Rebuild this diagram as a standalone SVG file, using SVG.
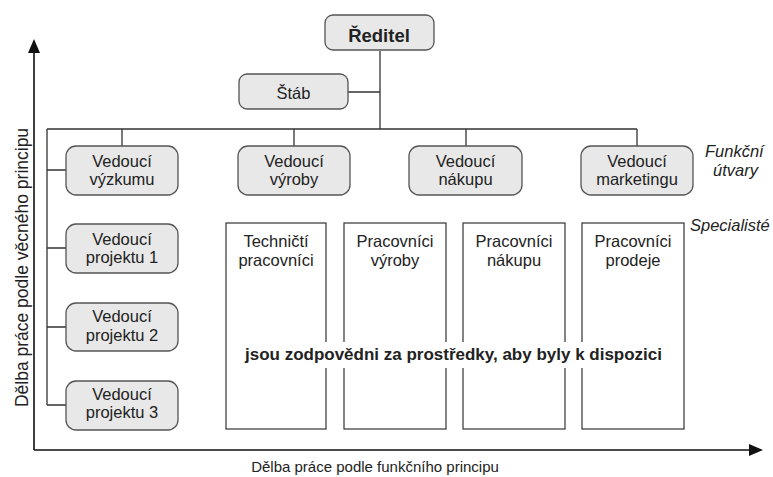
<svg xmlns="http://www.w3.org/2000/svg" width="773" height="477" viewBox="0 0 773 477">
<style>
text{font-family:"Liberation Sans",Arial,sans-serif;fill:#222;text-anchor:middle}
.nb{fill:#e8e8e8;stroke:#555;stroke-width:1.3}
.sp{fill:none;stroke:#333;stroke-width:1.2}
.t{font-size:16.5px}
.it{font-size:16.5px;font-style:italic;text-anchor:start}
.ln{fill:none;stroke:#333;stroke-width:1.3}
.ax{fill:none;stroke:#111;stroke-width:1.6}
</style>
<rect width="773" height="477" fill="#fff"/>
<g id="connectors">
<path class="ln" d="M380 51V129M348 92H380M47 129H637M122 129V146M294 129V146M466 129V146M637 129V146M47 129V405M47 170H66M47 248H66M47 327H66M47 405H66"/>
</g>
<g id="axes">
<path class="ax" d="M34 450V50M34 450H752"/>
<polygon points="34,39 28,53 40,53" fill="#111"/>
<polygon points="763,450 749,444 749,456" fill="#111"/>
<text x="375" y="472" style="font-size:15px">Dělba práce podle funkčního principu</text>
<text transform="translate(28,267.5) rotate(-90)" style="font-size:17.5px">Dělba práce podle věcného principu</text>
</g>
<g id="reditel"><rect class="nb" x="325" y="15" width="109" height="35" rx="8"/><text x="379" y="42" style="font-size:18.5px;font-weight:bold">Ředitel</text></g>
<g id="stab"><rect class="nb" x="239" y="74" width="109" height="35" rx="8"/><text x="293.5" y="99" class="t">Štáb</text></g>
<g id="v-vyzkumu"><rect class="nb" x="66" y="146" width="112" height="49" rx="10"/><text x="122" y="167" class="t">Vedoucí</text><text x="122" y="185" class="t">výzkumu</text></g>
<g id="v-vyroby"><rect class="nb" x="238" y="146" width="112" height="49" rx="10"/><text x="294" y="167" class="t">Vedoucí</text><text x="294" y="185" class="t">výroby</text></g>
<g id="v-nakupu"><rect class="nb" x="409" y="146" width="113" height="49" rx="10"/><text x="465.5" y="167" class="t">Vedoucí</text><text x="465.5" y="185" class="t">nákupu</text></g>
<g id="v-marketingu"><rect class="nb" x="581" y="146" width="112" height="49" rx="10"/><text x="637" y="167" class="t">Vedoucí</text><text x="637" y="185" class="t">marketingu</text></g>
<g id="v-projektu1"><rect class="nb" x="66" y="224" width="112" height="49" rx="10"/><text x="122" y="245" class="t">Vedoucí</text><text x="122" y="263" class="t">projektu 1</text></g>
<g id="v-projektu2"><rect class="nb" x="66" y="303" width="112" height="48" rx="10"/><text x="122" y="322" class="t">Vedoucí</text><text x="122" y="341" class="t">projektu 2</text></g>
<g id="v-projektu3"><rect class="nb" x="66" y="381" width="112" height="49" rx="10"/><text x="122" y="400" class="t">Vedoucí</text><text x="122" y="418" class="t">projektu 3</text></g>
<g id="s-technicti"><rect class="sp" x="226" y="223" width="100" height="206"/><text x="276" y="247" class="t">Techničtí</text><text x="276" y="266" class="t">pracovníci</text></g>
<g id="s-vyroby"><rect class="sp" x="344" y="223" width="102" height="206"/><text x="395" y="247" class="t">Pracovníci</text><text x="395" y="266" class="t">výroby</text></g>
<g id="s-nakupu"><rect class="sp" x="463" y="223" width="102" height="206"/><text x="514" y="247" class="t">Pracovníci</text><text x="514" y="266" class="t">nákupu</text></g>
<g id="s-prodeje"><rect class="sp" x="582" y="223" width="102" height="206"/><text x="633" y="247" class="t">Pracovníci</text><text x="633" y="266" class="t">prodeje</text></g>
<g id="labels">
<rect x="238" y="342" width="434" height="26" fill="#fff"/>
<text x="453.5" y="360" style="font-size:16.5px;font-weight:bold" textLength="417" lengthAdjust="spacingAndGlyphs">jsou zodpovědni za prostředky, aby byly k dispozici</text>
<text x="705" y="157" class="it">Funkční</text>
<text x="713" y="176" class="it">útvary</text>
<text x="690" y="231" class="it">Specialisté</text>
</g>
</svg>
